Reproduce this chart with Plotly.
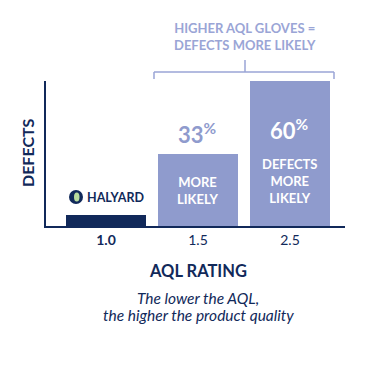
import plotly.graph_objects as go

categories = ["1.0", "1.5", "2.5"]
defects = [11, 72, 145]
tick_labels = ["<b>1.0</b>", "1.5", "2.5"]
pct_labels = ["", "33<sup>%</sup>", "60<sup>%</sup>"]
inside_labels = ["", "MORE<br>LIKELY", "DEFECTS<br>MORE<br>LIKELY"]
subtitle_lines = ["The lower the AQL,", "the higher the product quality"]

NAVY = "#11295a"
LIGHT = "#8f9bcd"
LIGHT_TXT = "#9aa5d6"
FONT = "Lato"

OFF = 8  # default body margin of the html page
W, H = 381 - OFF, 373 - OFF
L, R, T, B = 46 - OFF, 345 - OFF, 81 - OFF, 226 - OFF

def px(x):
    return (x - OFF - L) / (R - L)

def py(y):
    return (B - (y - OFF)) / (B - T)

xpos = list(range(len(categories)))
fig = go.Figure()
fig.add_trace(go.Bar(
    x=xpos, y=defects, width=0.87,
    marker=dict(color=[NAVY, LIGHT, LIGHT], line=dict(width=0)),
    hoverinfo="skip",
))

def ann(x, y, text, size, color, **kw):
    d = dict(x=px(x), y=py(y), xref="paper", yref="paper", text=text, showarrow=False,
             xanchor="center", yanchor="middle",
             font=dict(family=FONT, size=size, color=color))
    d.update(kw)
    return d

annotations = []
for i in range(len(categories)):
    if pct_labels[i]:
        inside = defects[i] > 120
        annotations.append(dict(
            x=xpos[i], y=defects[i], xref="x", yref="y",
            text="<b>" + pct_labels[i] + "</b>", showarrow=False,
            xanchor="center", yanchor="middle",
            yshift=21 if not inside else -48,
            font=dict(family=FONT, size=22, color=LIGHT if not inside else "white"),
        ))
    if inside_labels[i]:
        annotations.append(dict(
            x=xpos[i], y=defects[i], xref="x", yref="y",
            text="<b>" + inside_labels[i] + "</b>", showarrow=False,
            xanchor="center", yanchor="top",
            yshift=-18 if defects[i] < 120 else -73,
            font=dict(family=FONT, size=13, color="white"),
        ))

annotations += [
    ann(245, 36, "<b>HIGHER AQL GLOVES =<br>DEFECTS MORE LIKELY</b>", 13, LIGHT_TXT),
    ann(27, 153, "<b>DEFECTS</b>", 16, NAVY, textangle=-90),
    ann(198, 271, "<b>AQL RATING</b>", 16.5, NAVY),
    ann(198, 298, "<i>" + subtitle_lines[0] + "</i>", 15.5, NAVY),
    ann(198, 315, "<i>" + subtitle_lines[1] + "</i>", 15.5, NAVY),
    ann(85, 197, "<b>HALYARD</b>", 12.5, NAVY, xanchor="left"),
]

bracket = dict(color=LIGHT_TXT, width=1.5)
def line(x0, y0, x1, y1):
    return dict(type="line", xref="paper", yref="paper", x0=px(x0), x1=px(x1),
                y0=py(y0), y1=py(y1), line=bracket)

shapes = [
    line(154, 72, 334, 72),
    line(154, 72, 154, 79),
    line(334, 72, 334, 79),
    line(245, 60, 245, 72),
    dict(type="circle", xref="paper", yref="paper", x0=px(69), x1=px(83), y0=py(190), y1=py(204),
         fillcolor=NAVY, line=dict(width=0)),
    dict(type="circle", xref="paper", yref="paper", x0=px(74), x1=px(79.5), y0=py(192.5), y1=py(201.5),
         fillcolor="#b9dc9e", line=dict(width=0)),
]

fig.update_layout(
    width=W, height=H,
    margin=dict(l=L, r=W - R, t=T, b=H - B, autoexpand=False),
    paper_bgcolor="white", plot_bgcolor="white",
    showlegend=False,
    bargap=0,
    xaxis=dict(range=[-0.652, 2.598], tickvals=xpos, ticktext=tick_labels,
               showgrid=False, zeroline=False, showline=True, linecolor=NAVY, linewidth=1.5,
               ticks="", tickfont=dict(family=FONT, size=14, color=NAVY), fixedrange=True),
    yaxis=dict(range=[0, 145], showgrid=False, zeroline=False, showline=True,
               linecolor=NAVY, linewidth=1.5, showticklabels=False, ticks="", fixedrange=True),
    annotations=annotations,
    shapes=shapes,
)

fig.write_html("out.html")
